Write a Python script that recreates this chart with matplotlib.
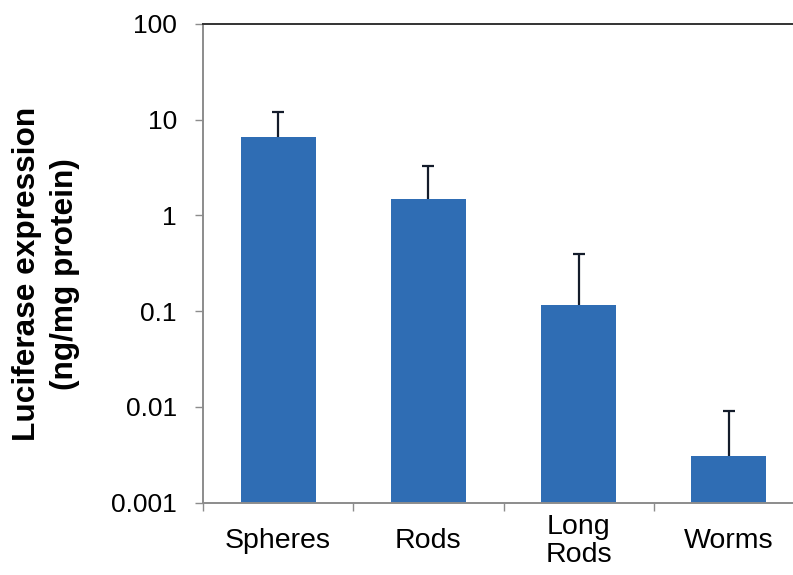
import matplotlib
matplotlib.use("Agg")
import matplotlib.pyplot as plt
import numpy as np

plt.rcParams['font.family'] = ['Liberation Sans', 'DejaVu Sans']

# Luciferase expression by particle shape (ng/mg protein)
categories = ["Spheres", "Rods", "Long\nRods", "Worms"]
expression = [6.6, 1.47, 0.117, 0.0031]
upper_err = [12.1, 3.27, 0.396, 0.0090]   # top of error bar
y_ticks = [0.001, 0.01, 0.1, 1, 10, 100]
y_tick_labels = ["0.001", "0.01", "0.1", "1", "10", "100"]

bar_color = "#2f6db4"
err_color = "#141c2b"
axis_gray = "#8c8c8c"

W, H = 793, 575
fig = plt.figure(figsize=(W / 100, H / 100), dpi=100)
ax = fig.add_axes([203 / W, (H - 502.7) / H, 601 / W, (502.7 - 24) / H])

x = np.arange(len(categories))
yerr = [np.zeros(len(x)), np.array(upper_err) - np.array(expression)]
ax.bar(x, expression, width=0.5, color=bar_color, zorder=2)
_, caps, _ = ax.errorbar(x, expression, yerr=yerr, fmt="none", ecolor=err_color,
                         elinewidth=1.6, capsize=4, capthick=1.6, zorder=3)
# only the upper cap is shown; the lower one sits on the bar top
for cap in caps:
    if np.allclose(cap.get_ydata(), expression):
        cap.set_visible(False)

ax.set_yscale("log")
ax.set_ylim(0.001, 100)
ax.set_xlim(-0.5, len(categories) - 0.5)

ax.set_yticks(y_ticks)
ax.set_yticklabels(y_tick_labels)
ax.yaxis.set_minor_locator(matplotlib.ticker.NullLocator())
ax.tick_params(axis="y", which="major", direction="out", length=5.8, width=1.0,
               color=axis_gray, pad=13, labelsize=19)

ax.set_xticks(x)
ax.set_xticklabels(categories, fontsize=20.5, linespacing=1.1)
ax.set_xticks(np.arange(len(categories)) - 0.5, minor=True)
ax.tick_params(axis="x", which="major", length=0, pad=27.5)
ax.tick_params(axis="x", which="minor", direction="out", length=5.8, width=1.0,
               color=axis_gray)
for lbl in ax.get_xticklabels():
    lbl.set_va("center")

for side in ("left", "bottom"):
    ax.spines[side].set_color(axis_gray)
    ax.spines[side].set_linewidth(1.4)
ax.spines["top"].set_color("#333333")
ax.spines["top"].set_linewidth(1.4)
ax.spines["right"].set_visible(False)

fig.text(46 / W, (H - 274) / H, "Luciferase expression\n(ng/mg protein)",
         rotation=90, ha="center", va="center", multialignment="center",
         fontsize=22.8, fontweight="bold", linespacing=1.38)

fig.savefig("out.png", dpi=100)
